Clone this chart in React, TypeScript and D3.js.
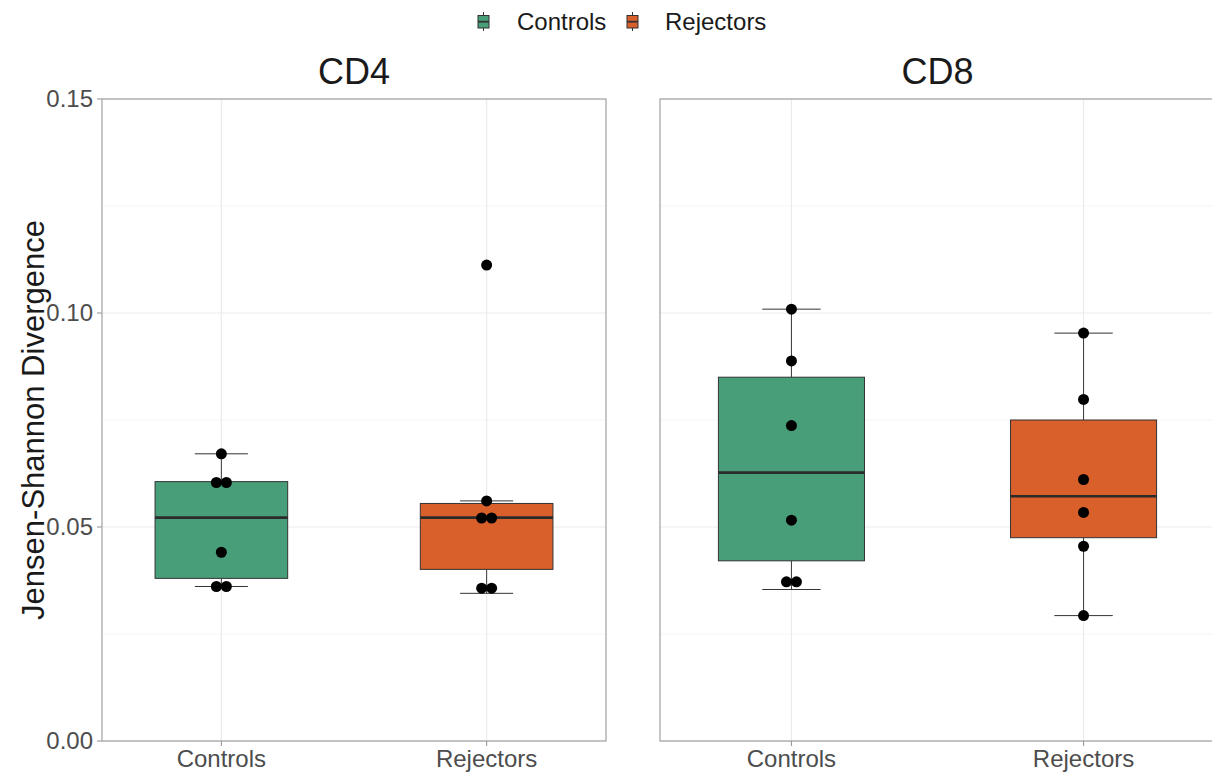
import React from "react";
import * as d3 from "d3";

// Groups compared within each cell subset
const groups = ["Controls", "Rejectors"];
const panels = ["CD4", "CD8"];

// Individual Jensen-Shannon divergence values per panel and group
const cd4Controls = [0.0671, 0.0604, 0.0604, 0.0441, 0.0361, 0.0361];
const cd4Rejectors = [0.1112, 0.0561, 0.0521, 0.0521, 0.0357, 0.0357];
const cd8Controls = [0.1009, 0.0888, 0.0737, 0.0516, 0.0372, 0.0372];
const cd8Rejectors = [0.0953, 0.0798, 0.0611, 0.0534, 0.0455, 0.0293];

// Box summaries: [lower whisker, Q1, median, Q3, upper whisker]
const cd4ControlsBox = [0.0361, 0.0380, 0.0522, 0.0606, 0.0671];
const cd4RejectorsBox = [0.0345, 0.0401, 0.0522, 0.0555, 0.0561];
const cd8ControlsBox = [0.0354, 0.0421, 0.0627, 0.0850, 0.1009];
const cd8RejectorsBox = [0.0293, 0.0475, 0.0572, 0.0750, 0.0953];

const yTicks = [0, 0.05, 0.1, 0.15];
const yMinor = [0.025, 0.075, 0.125];

const fills: Record<string, string> = { Controls: "#489E79", Rejectors: "#D95F2B" };

const panelData = [
  { name: panels[0], values: [cd4Controls, cd4Rejectors], boxes: [cd4ControlsBox, cd4RejectorsBox] },
  { name: panels[1], values: [cd8Controls, cd8Rejectors], boxes: [cd8ControlsBox, cd8RejectorsBox] },
];

const W = 1212;
const H = 777;
const top = 99;
const bottom = 741;
const panelX = [
  [102, 606],
  [660, 1215],
];
const font = "'Liberation Sans', Arial, Helvetica, sans-serif";

// Spread tied values side by side so every point stays visible
function spread(values: number[], gap: number) {
  const out: { v: number; dx: number }[] = [];
  const used = new Array(values.length).fill(false);
  values.forEach((v, i) => {
    if (used[i]) return;
    const cluster = values
      .map((w, j) => ({ w, j }))
      .filter((o) => !used[o.j] && Math.abs(o.w - v) < 0.0005);
    cluster.forEach((o, k) => {
      used[o.j] = true;
      out.push({ v: o.w, dx: (k - (cluster.length - 1) / 2) * gap });
    });
  });
  return out;
}

export default function App() {
  const y = d3.scaleLinear().domain([0, 0.15]).range([bottom, top]);
  const fmt = d3.format(".2f");

  return (
    <svg
      width={W}
      height={H}
      style={{ position: "absolute", left: 0, top: 0, background: "#fff" }}
      fontFamily={font}
    >
      <rect width={W} height={H} fill="#fff" />
      {/* legend */}
      {groups.map((g, i) => {
        const kx = [478, 627][i];
        const tx = [517, 665][i];
        return (
          <g key={g}>
            <line x1={kx + 5.5} x2={kx + 5.5} y1={12} y2={31} stroke="#333" strokeWidth={1} />
            <rect x={kx} y={15.5} width={11} height={12.5} fill={fills[g]} stroke="#333" strokeWidth={1} />
            <line x1={kx} x2={kx + 11} y1={21.7} y2={21.7} stroke="#333" strokeWidth={1.8} />
            <text x={tx} y={30} fontSize={24} fill="#1a1a1a">
              {g}
            </text>
          </g>
        );
      })}

      {/* y axis title */}
      <text
        transform={`translate(44, ${(top + bottom) / 2}) rotate(-90)`}
        textAnchor="middle"
        fontSize={31}
        fill="#1a1a1a"
      >
        Jensen-Shannon Divergence
      </text>

      {/* y tick labels */}
      {yTicks.map((t) => (
        <g key={t}>
          <line x1={97} x2={102} y1={y(t)} y2={y(t)} stroke="#999" strokeWidth={1.1} />
          <text x={93} y={y(t)} dy="0.35em" textAnchor="end" fontSize={24} fill="#4d4d4d">
            {fmt(t)}
          </text>
        </g>
      ))}

      {panelData.map((p, pi) => {
        const [x0, x1] = panelX[pi];
        const x = d3.scalePoint<string>().domain(groups).range([x0, x1]).padding(0.45);
        const step = x.step();
        const boxW = step * 0.5;
        const capW = step * 0.2;
        return (
          <g key={p.name}>
            <defs>
              <clipPath id={`clip-${pi}`}>
                <rect x={x0} y={top - 10} width={x1 - x0} height={bottom - top + 20} />
              </clipPath>
            </defs>
            <text x={(x0 + x1) / 2} y={84} textAnchor="middle" fontSize={36} fill="#1a1a1a">
              {p.name}
            </text>
            {/* grid */}
            {yMinor.map((t) => (
              <line key={`m${t}`} x1={x0} x2={x1} y1={y(t)} y2={y(t)} stroke="#f2f2f2" strokeWidth={0.8} />
            ))}
            {yTicks.map((t) => (
              <line key={`g${t}`} x1={x0} x2={x1} y1={y(t)} y2={y(t)} stroke="#ebebeb" strokeWidth={1.2} />
            ))}
            {groups.map((g) => (
              <line key={`v${g}`} x1={x(g)} x2={x(g)} y1={top} y2={bottom} stroke="#ebebeb" strokeWidth={1.2} />
            ))}
            {/* boxes */}
            {groups.map((g, gi) => {
              const cx = x(g) as number;
              const [lo, q1, med, q3, hi] = p.boxes[gi];
              return (
                <g key={`b${g}`}>
                  <line x1={cx} x2={cx} y1={y(hi)} y2={y(q3)} stroke="#3a3a3a" strokeWidth={1} />
                  <line x1={cx} x2={cx} y1={y(q1)} y2={y(lo)} stroke="#3a3a3a" strokeWidth={1} />
                  <line x1={cx - capW / 2} x2={cx + capW / 2} y1={y(hi)} y2={y(hi)} stroke="#333" strokeWidth={1} />
                  <line x1={cx - capW / 2} x2={cx + capW / 2} y1={y(lo)} y2={y(lo)} stroke="#333" strokeWidth={1} />
                  <rect
                    x={cx - boxW / 2}
                    y={y(q3)}
                    width={boxW}
                    height={y(q1) - y(q3)}
                    fill={fills[g]}
                    stroke="#333"
                    strokeWidth={1}
                  />
                  <line x1={cx - boxW / 2} x2={cx + boxW / 2} y1={y(med)} y2={y(med)} stroke="#2b2b2b" strokeWidth={2.6} />
                </g>
              );
            })}
            {/* points */}
            {groups.map((g, gi) => {
              const cx = x(g) as number;
              return spread(p.values[gi], 10).map((pt, k) => (
                <circle key={`p${g}${k}`} cx={cx + pt.dx} cy={y(pt.v)} r={5.5} fill="#000" />
              ));
            })}
            {/* panel border */}
            <rect x={x0} y={top} width={x1 - x0} height={bottom - top} fill="none" stroke="#a8a8a8" strokeWidth={1.3} />
            {/* x ticks and labels */}
            {groups.map((g) => (
              <g key={`x${g}`}>
                <line x1={x(g)} x2={x(g)} y1={bottom} y2={bottom + 5} stroke="#999" strokeWidth={1.1} />
                <text x={x(g)} y={767} textAnchor="middle" fontSize={24} fill="#4d4d4d">
                  {g}
                </text>
              </g>
            ))}
          </g>
        );
      })}
    </svg>
  );
}
